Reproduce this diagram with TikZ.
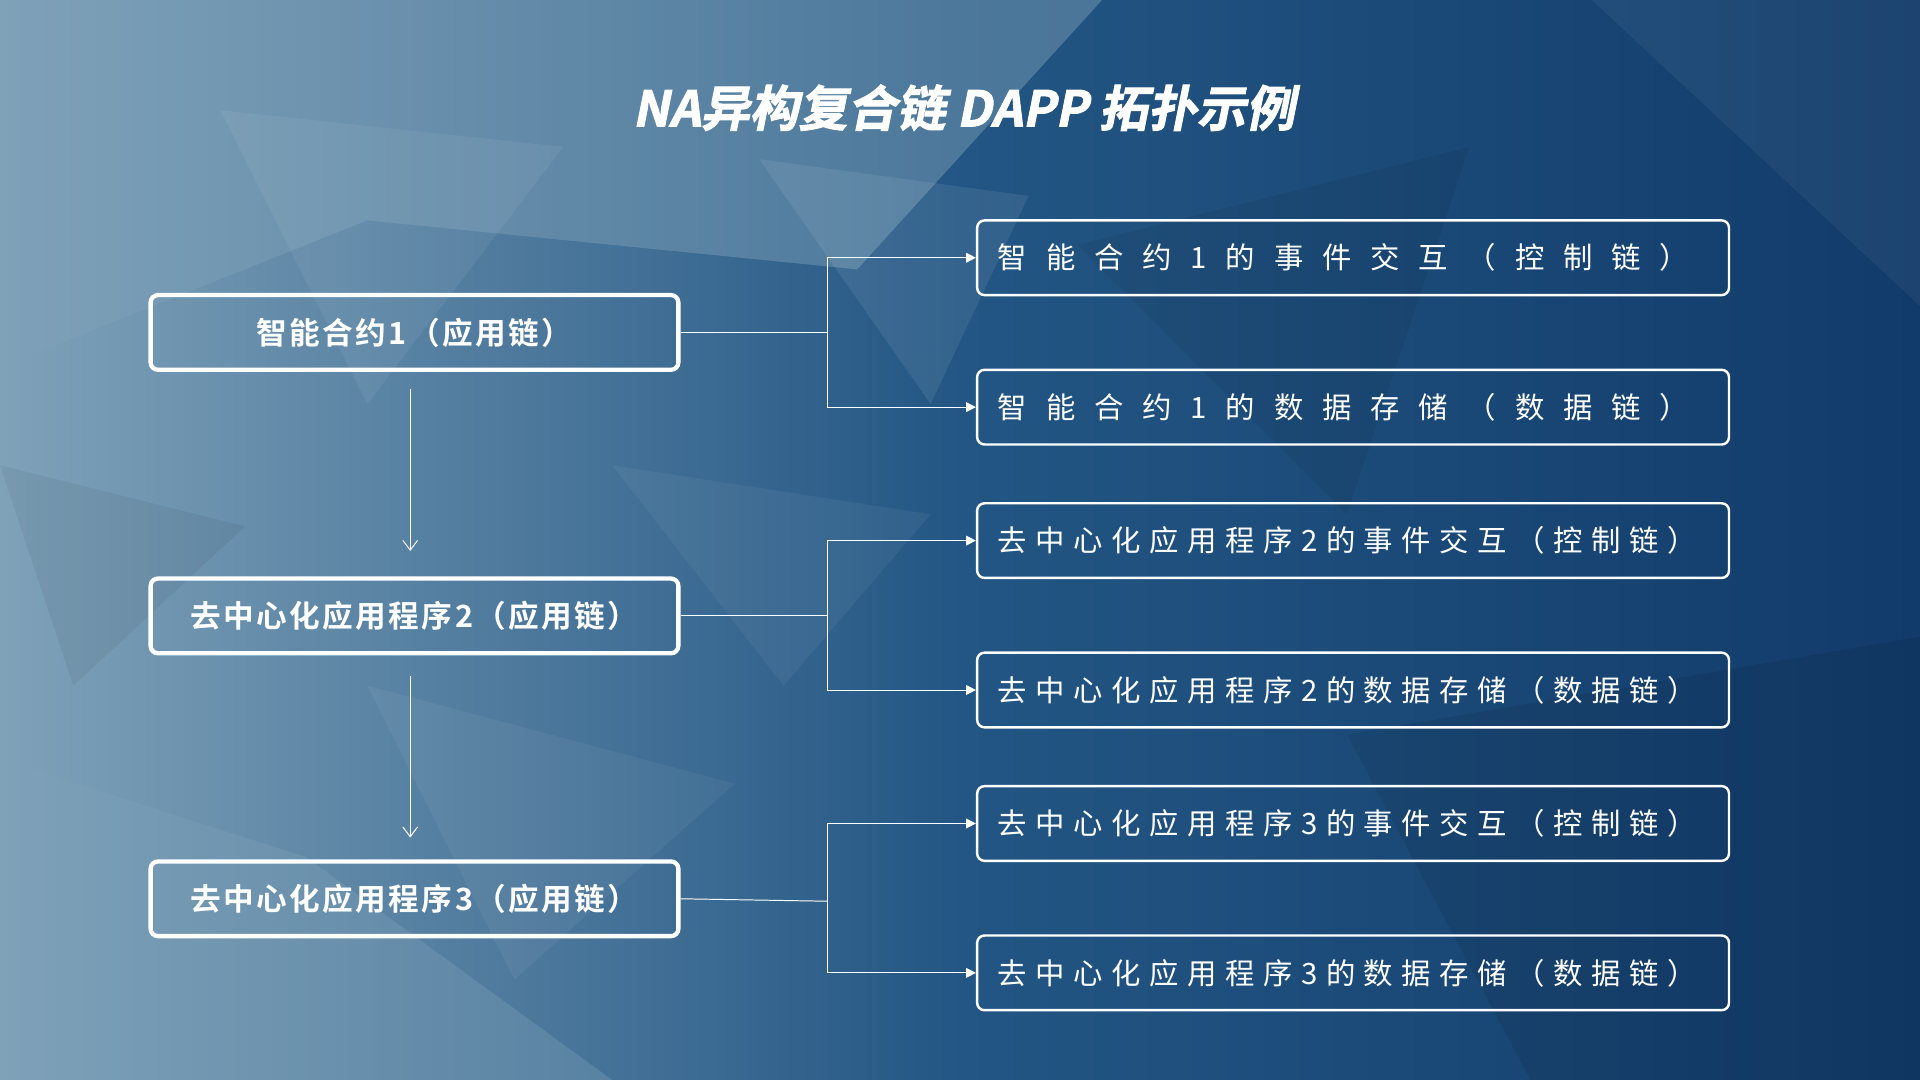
\documentclass[tikz,border=0pt]{standalone}
\usepackage{fontspec}
\setmainfont{Noto Sans CJK SC}
\newfontfamily\cjkwide[LetterSpace=64]{Noto Sans CJK SC}
\newfontfamily\cjkmid[LetterSpace=29]{Noto Sans CJK SC}
\newfontfamily\cjktitle[FakeSlant=0.2,FakeBold=2]{Noto Sans CJK SC Bold}
\newfontfamily\cjkbold[LetterSpace=8]{Noto Sans CJK SC Bold}
\usetikzlibrary{arrows.meta}
\definecolor{bgA}{HTML}{7FA2B9}
\definecolor{bgB}{HTML}{235684}
\definecolor{bgC}{HTML}{113B6A}
\begin{document}
\begin{tikzpicture}[x=1pt,y=-1pt,
  lbox/.style={draw=white,line width=3.5pt,rounded corners=6pt,minimum width=431pt,minimum height=61pt,text=white,font=\cjkbold\fontsize{25}{28}\selectfont},
  rbox/.style={draw=white,line width=2pt,rounded corners=6pt,minimum width=614pt,minimum height=61pt,text=white,font=\fontsize{24}{28}\selectfont,text width=580pt,align=left},
  conn/.style={white,line width=0.8pt},
  arr/.style={conn,-{Triangle[length=8pt,width=8pt]}},
  darr/.style={conn,-{Straight Barb[length=8pt,width=12pt]}}]
\useasboundingbox (0,0) rectangle (1568,882);
\shade[left color=bgA,right color=bgC,middle color=bgB] (0,0) rectangle (1568,882);
\fill[bgA,opacity=0.45] (0,0) -- (900,0) -- (700,220) -- (300,180) -- (0,300) -- cycle;
\fill[white,opacity=0.06] (180,90) -- (460,120) -- (300,330) -- cycle;
\fill[white,opacity=0.08] (620,130) -- (840,160) -- (760,330) -- cycle;
\fill[black,opacity=0.06] (880,200) -- (1200,120) -- (1100,420) -- cycle;
\fill[white,opacity=0.05] (1300,0) -- (1568,0) -- (1568,250) -- cycle;
\fill[bgA,opacity=0.35] (0,620) -- (250,700) -- (500,882) -- (0,882) -- cycle;
\fill[white,opacity=0.05] (300,560) -- (600,640) -- (420,800) -- cycle;
\fill[black,opacity=0.08] (1100,600) -- (1568,520) -- (1568,882) -- (1250,882) -- cycle;
\fill[white,opacity=0.05] (500,380) -- (760,420) -- (640,560) -- cycle;
\fill[black,opacity=0.05] (0,380) -- (200,430) -- (60,560) -- cycle;

\node[text=white,font=\cjktitle\fontsize{40}{46}\selectfont] (title) at (787,88) {NA异构复合链 DAPP 拓扑示例};

\node[lbox] (L1) at (338.5,271.5) {智能合约1（应用链）};
\node[lbox] (L2) at (338.5,503) {去中心化应用程序2（应用链）};
\node[lbox] (L3) at (338.5,734) {去中心化应用程序3（应用链）};

\node[rbox,font=\cjkwide\fontsize{24}{28}\selectfont] (R1) at (1105,210.5) {智能合约1的事件交互（控制链）};
\node[rbox,font=\cjkwide\fontsize{24}{28}\selectfont] (R2) at (1105,332.5) {智能合约1的数据存储（数据链）};
\node[rbox,font=\cjkmid\fontsize{24}{28}\selectfont] (R3) at (1105,441.5) {去中心化应用程序2的事件交互（控制链）};
\node[rbox,font=\cjkmid\fontsize{24}{28}\selectfont] (R4) at (1105,563.5) {去中心化应用程序2的数据存储（数据链）};
\node[rbox,font=\cjkmid\fontsize{24}{28}\selectfont] (R5) at (1105,672.5) {去中心化应用程序3的事件交互（控制链）};
\node[rbox,font=\cjkmid\fontsize{24}{28}\selectfont] (R6) at (1105,794.5) {去中心化应用程序3的数据存储（数据链）};

\coordinate (J1) at (676,271.5);
\coordinate (J2) at (676,503);
\coordinate (J3) at (676,736);
\draw[conn] (L1.east) -- (J1);
\draw[arr] (J1) |- (R1.west);
\draw[arr] (J1) |- (R2.west);
\draw[conn] (L2.east) -- (J2);
\draw[arr] (J2) |- (R3.west);
\draw[arr] (J2) |- (R4.west);
\draw[conn] (L3.east) -- (J3);
\draw[arr] (J3) |- (R5.west);
\draw[arr] (J3) |- (R6.west);

\coordinate (A1) at (335,318);
\coordinate (B1) at (335,450);
\coordinate (A2) at (335,552);
\coordinate (B2) at (335,684);
\draw[darr] (A1) -- (B1);
\draw[darr] (A2) -- (B2);
\end{tikzpicture}
\end{document}
